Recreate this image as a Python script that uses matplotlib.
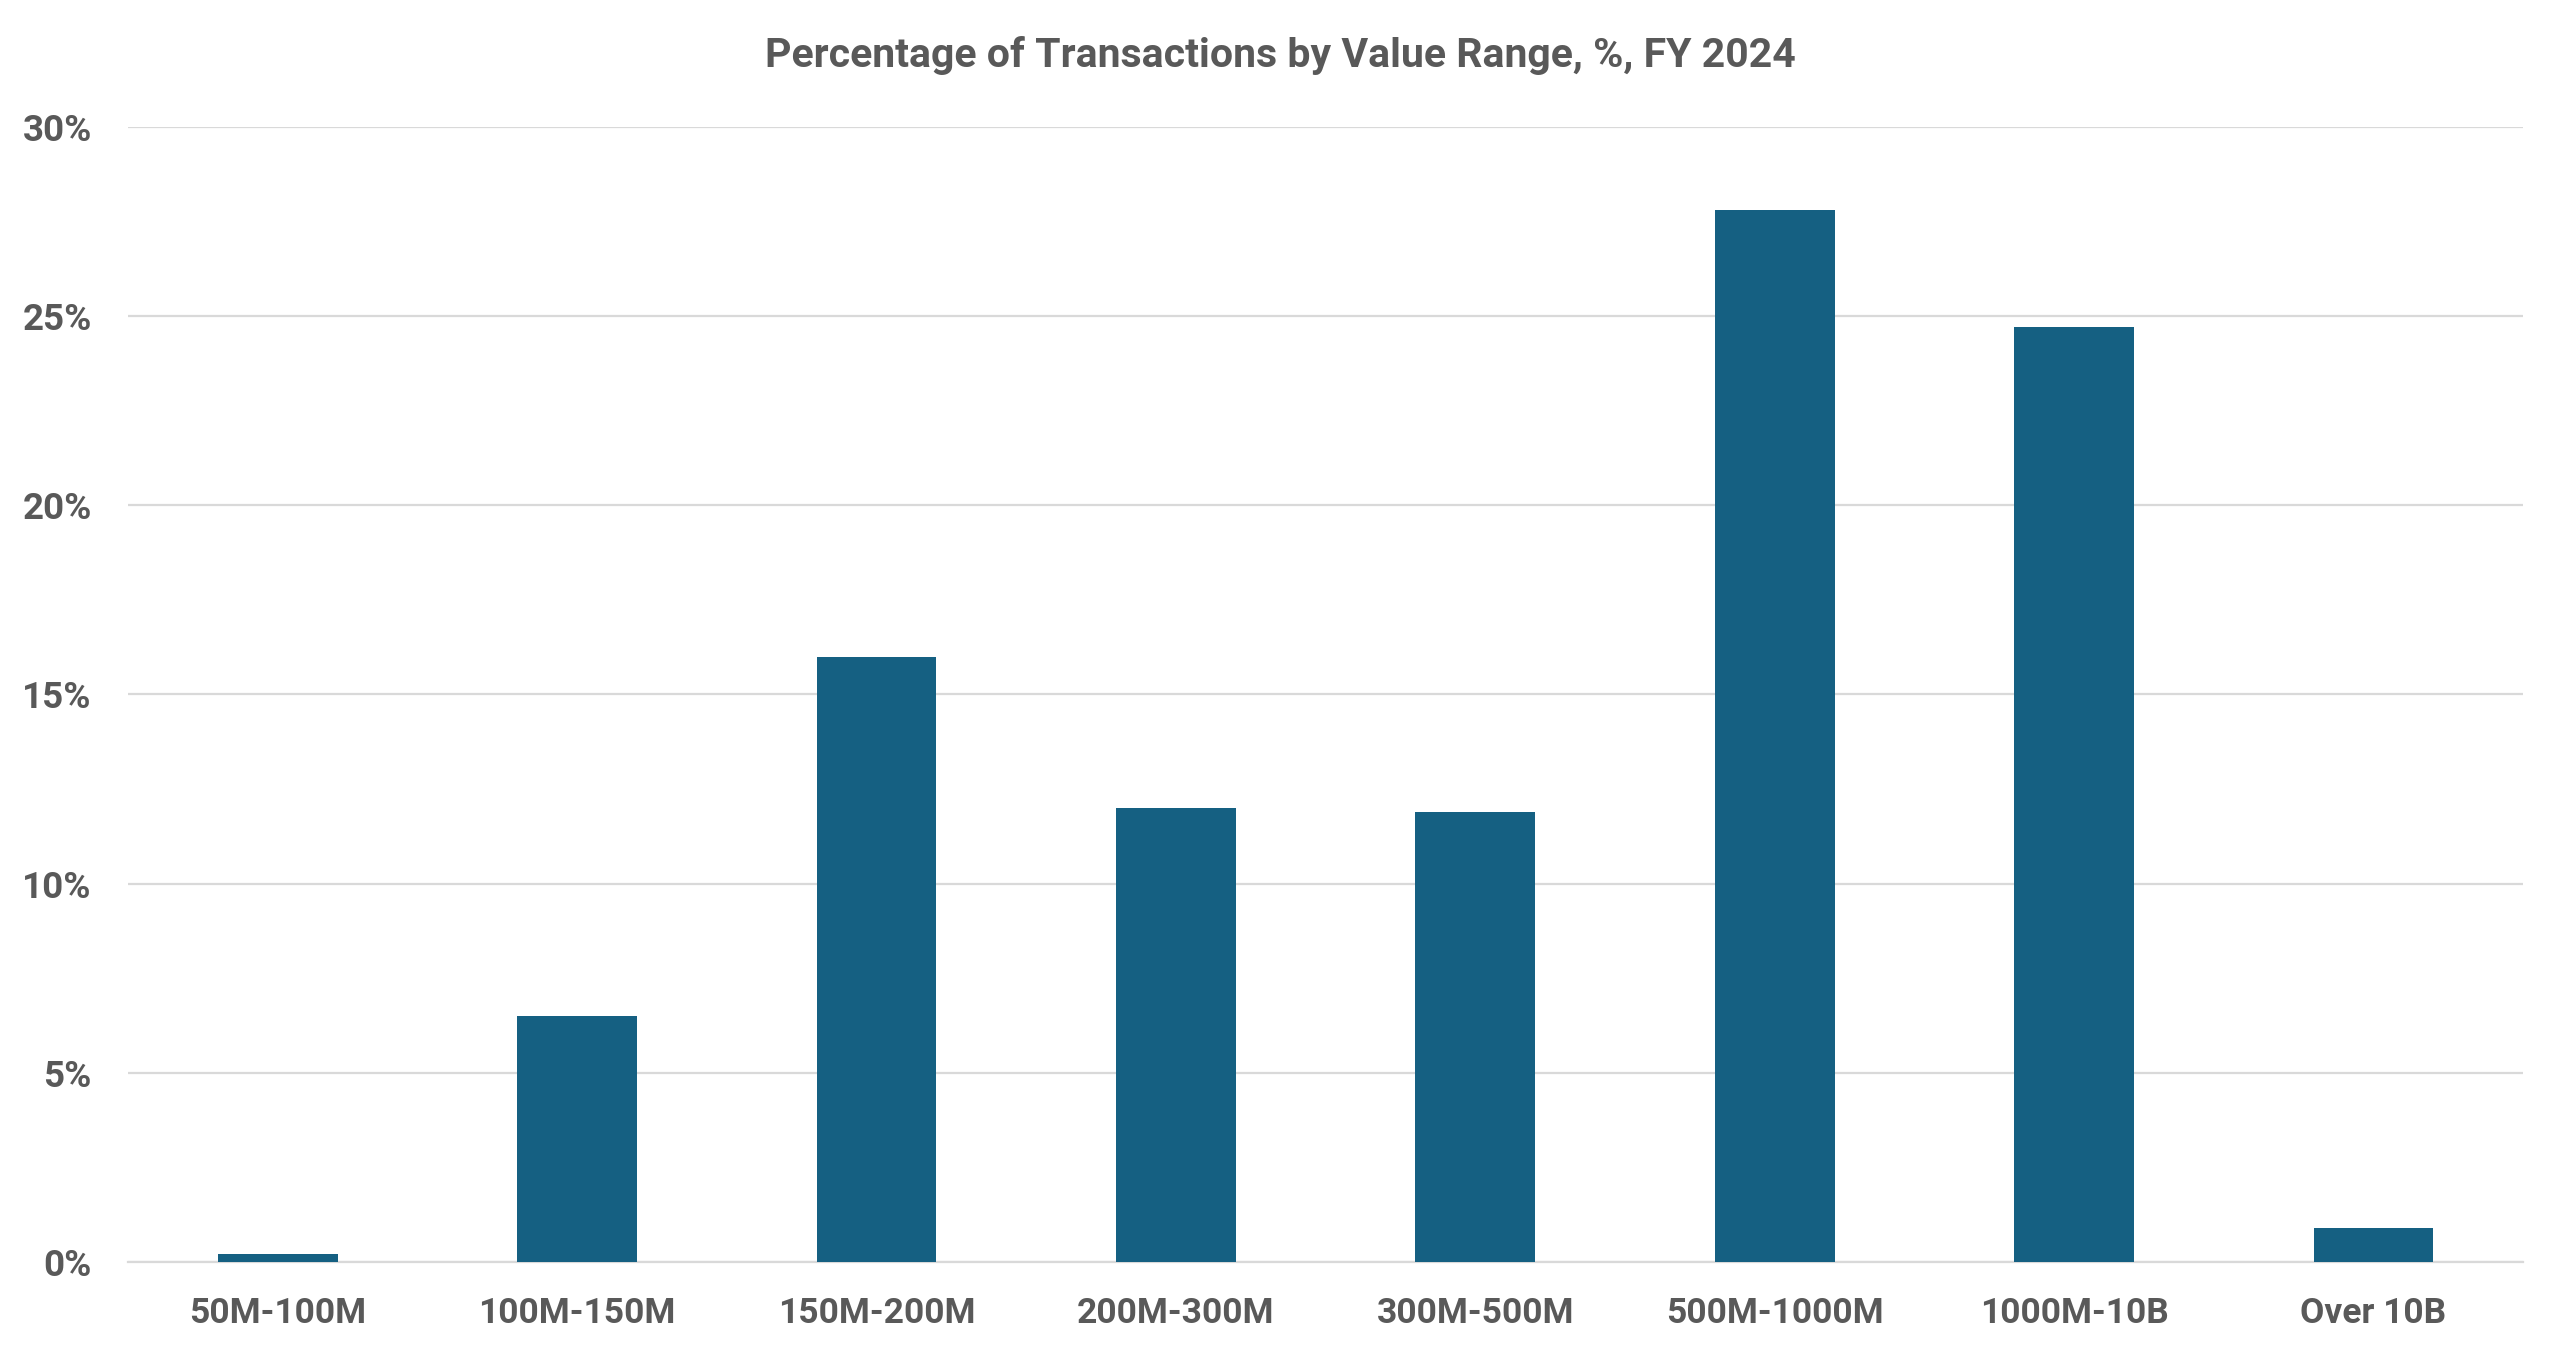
import matplotlib
matplotlib.use('Agg')
import matplotlib.pyplot as plt
from matplotlib.ticker import FuncFormatter

plt.rcParams['font.family'] = ['Roboto', 'DejaVu Sans']

categories = ['50M-100M', '100M-150M', '150M-200M', '200M-300M',
              '300M-500M', '500M-1000M', '1000M-10B', 'Over 10B']
shares = [0.2, 6.5, 16.0, 12.0, 11.9, 27.8, 24.7, 0.9]
yticks = [0, 5, 10, 15, 20, 25, 30]

text_color = '#595959'
bar_color = '#156082'
grid_color = '#D9D9D9'

fig = plt.figure(figsize=(25.6, 13.57), dpi=100)
ax = fig.add_axes([0.05, 0.07, 0.9356, 0.8366])

x = range(len(categories))
ax.bar(x, shares, width=0.4, color=bar_color, zorder=3)

ax.set_xlim(-0.5, len(categories) - 0.5)
ax.set_ylim(0, 30)
ax.set_yticks(yticks)
ax.yaxis.set_major_formatter(FuncFormatter(lambda v, p: f'{v:.0f}%'))
ax.set_xticks(list(x))
ax.set_xticklabels(categories)

ax.grid(axis='y', color=grid_color, linewidth=1.6, zorder=0)
for s in ['top', 'right', 'left']:
    ax.spines[s].set_visible(False)
ax.spines['bottom'].set_color(grid_color)
ax.spines['bottom'].set_linewidth(1.6)

ax.tick_params(axis='y', length=0, pad=26, labelsize=26.5, labelcolor=text_color)
ax.tick_params(axis='x', length=0, pad=25, labelsize=25.5, labelcolor=text_color)
for lab in ax.get_xticklabels() + ax.get_yticklabels():
    lab.set_fontweight('bold')

fig.text(0.5, 0.959, 'Percentage of Transactions by Value Range, %, FY 2024',
         ha='center', va='center', fontsize=29.5, fontweight='bold', color=text_color)

fig.savefig('out.png', dpi=100, facecolor='white')
